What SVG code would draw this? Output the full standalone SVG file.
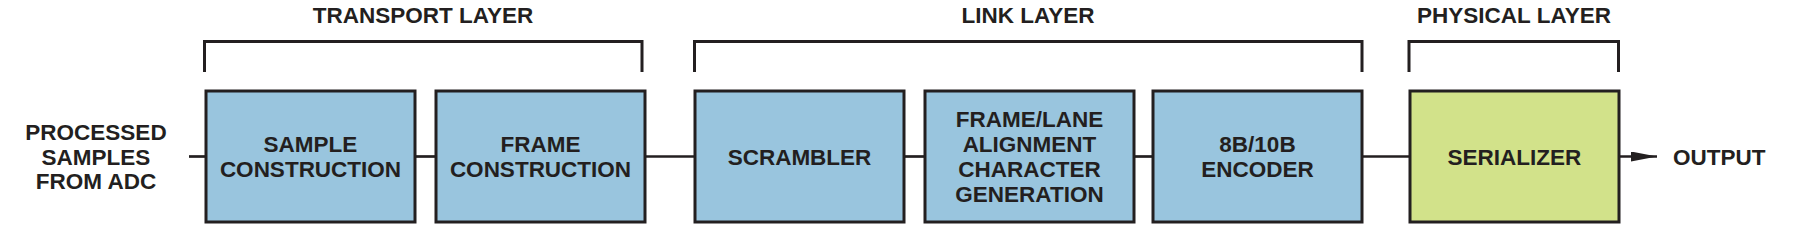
<svg xmlns="http://www.w3.org/2000/svg" width="1797" height="226" viewBox="0 0 1797 226">
<defs>
<style>
text{font-family:"Liberation Sans",Arial,sans-serif;font-weight:bold;font-size:22.5px;fill:#231F20;text-anchor:middle}
.box{stroke:#231F20;stroke-width:3}
.blue{fill:#99C5DE}
.green{fill:#D2E28A}
.ln{stroke:#231F20;stroke-width:2.7;fill:none}
.br{stroke:#231F20;stroke-width:3;fill:none}
</style>
<marker id="arr" markerWidth="26" markerHeight="10" refX="26" refY="5" orient="auto" markerUnits="userSpaceOnUse">
<path d="M0,0 L26,5 L0,10 Z" fill="#231F20"/>
</marker>
</defs>
<rect width="1797" height="226" fill="#FFFFFF"/>
<g id="layers">
<path class="br" d="M204.5,72 V41.5 H642 V72"/>
<text x="423" y="23">TRANSPORT LAYER</text>
<path class="br" d="M694.5,72 V41.5 H1362 V72"/>
<text x="1028" y="23">LINK LAYER</text>
<path class="br" d="M1409,72 V41.5 H1618.5 V72"/>
<text x="1514" y="23">PHYSICAL LAYER</text>
</g>
<g id="connectors">
<line class="ln" x1="189" y1="156.5" x2="206" y2="156.5"/>
<line class="ln" x1="415" y1="156.5" x2="436" y2="156.5"/>
<line class="ln" x1="645" y1="156.5" x2="695" y2="156.5"/>
<line class="ln" x1="904" y1="156.5" x2="925" y2="156.5"/>
<line class="ln" x1="1134" y1="156.5" x2="1153" y2="156.5"/>
<line class="ln" x1="1362" y1="156.5" x2="1410" y2="156.5"/>
<line class="ln" x1="1619" y1="156.5" x2="1657" y2="156.5" marker-end="url(#arr)"/>
</g>
<g id="input">
<text x="96" y="140">PROCESSED</text>
<text x="96" y="164.5">SAMPLES</text>
<text x="96" y="189">FROM ADC</text>
</g>
<g id="sample">
<rect class="box blue" x="206" y="91" width="209" height="131"/>
<text x="310.5" y="152.3">SAMPLE</text>
<text x="310.5" y="176.8">CONSTRUCTION</text>
</g>
<g id="frame">
<rect class="box blue" x="436" y="91" width="209" height="131"/>
<text x="540.5" y="152.3">FRAME</text>
<text x="540.5" y="176.8">CONSTRUCTION</text>
</g>
<g id="scrambler">
<rect class="box blue" x="695" y="91" width="209" height="131"/>
<text x="799.5" y="164.5">SCRAMBLER</text>
</g>
<g id="alignment">
<rect class="box blue" x="925" y="91" width="209" height="131"/>
<text x="1029.5" y="127">FRAME/LANE</text>
<text x="1029.5" y="152">ALIGNMENT</text>
<text x="1029.5" y="177">CHARACTER</text>
<text x="1029.5" y="202">GENERATION</text>
</g>
<g id="encoder">
<rect class="box blue" x="1153" y="91" width="209" height="131"/>
<text x="1257.5" y="152.3">8B/10B</text>
<text x="1257.5" y="176.8">ENCODER</text>
</g>
<g id="serializer">
<rect class="box green" x="1410" y="91" width="209" height="131"/>
<text x="1514.5" y="164.5">SERIALIZER</text>
</g>
<g id="output">
<text x="1673" y="164.5" style="text-anchor:start">OUTPUT</text>
</g>
</svg>
